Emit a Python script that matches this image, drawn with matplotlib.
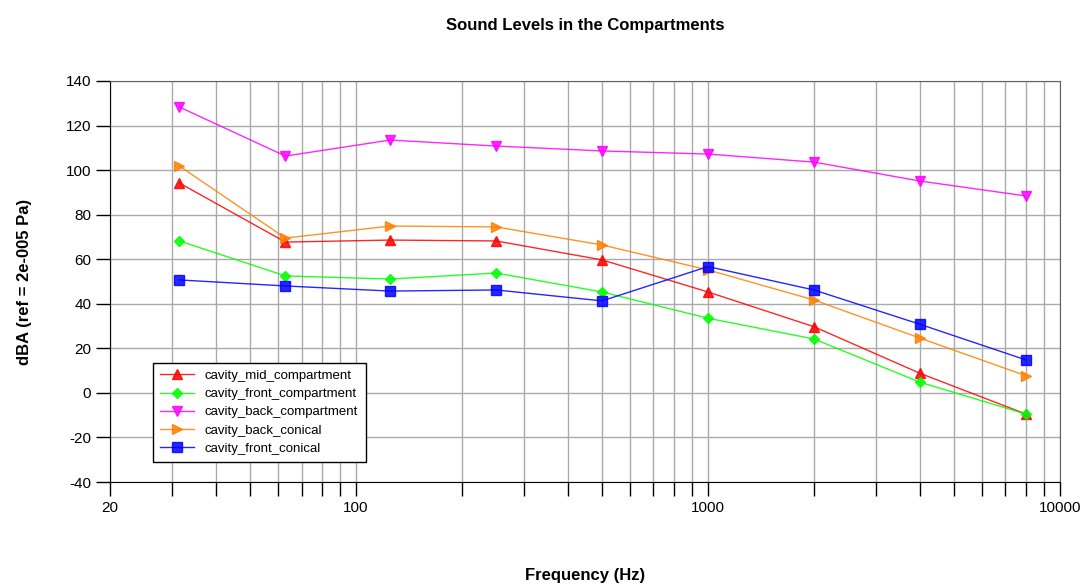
import numpy as np
import matplotlib.pyplot as plt
from matplotlib.ticker import FixedLocator, NullFormatter, FixedFormatter

plt.rcParams['font.family'] = ['Liberation Sans', 'DejaVu Sans']
plt.rcParams['axes.unicode_minus'] = False

# Octave band centre frequencies (Hz)
freq = [31.5, 63, 125, 250, 500, 1000, 2000, 4000, 8000]

# Sound levels per compartment (dBA)
mid_compartment = [94.2, 67.7, 68.6, 68.2, 59.7, 45.3, 29.7, 8.8, -9.5]
front_compartment = [68.2, 52.5, 51.1, 53.8, 45.3, 33.5, 24.2, 4.8, -9.5]
back_compartment = [128.3, 106.3, 113.5, 110.8, 108.6, 107.2, 103.6, 95.1, 88.4]
back_conical = [101.8, 69.5, 74.9, 74.5, 66.4, 55.2, 41.7, 24.6, 7.7]
front_conical = [50.7, 48.0, 45.7, 46.2, 41.3, 56.7, 46.2, 30.8, 14.8]

series = [
    ('cavity_mid_compartment', mid_compartment, '#ff0000', '^', 7),
    ('cavity_front_compartment', front_compartment, '#00ff00', 'D', 5),
    ('cavity_back_compartment', back_compartment, '#ff00ff', 'v', 7),
    ('cavity_back_conical', back_conical, '#ff8000', '>', 7),
    ('cavity_front_conical', front_conical, '#0000ff', 's', 7),
]

fig = plt.figure(figsize=(10.86, 5.85), dpi=100)
ax = fig.add_axes([110 / 1086, 1 - 482 / 585, 950 / 1086, 401 / 585])

for name, vals, col, mk, ms in series:
    ax.plot(freq, vals, color=col, marker=mk, markersize=ms, linewidth=1.0,
            label=name, alpha=0.85, markeredgecolor=col)

ax.set_xscale('log')
ax.set_xlim(20, 10000)
ax.set_ylim(-40, 140)
ax.set_yticks(np.arange(-40, 141, 20))

major = [20, 100, 1000, 10000]
ax.xaxis.set_major_locator(FixedLocator(major))
ax.xaxis.set_major_formatter(FixedFormatter([str(m) for m in major]))
minor = [m * d for d in (10, 100, 1000) for m in range(2, 10) if 20 < m * d < 10000]
ax.xaxis.set_minor_locator(FixedLocator(minor))
ax.xaxis.set_minor_formatter(NullFormatter())

ax.grid(True, which='both', axis='x', color='#aaaaaa', linewidth=1.0)
ax.grid(True, which='major', axis='y', color='#aaaaaa', linewidth=1.0)
ax.set_axisbelow(True)

ax.tick_params(axis='both', which='both', direction='out', length=10,
               width=1, labelsize=11, color='black')
ax.tick_params(axis='x', which='major', pad=4)
for side in ('left', 'bottom'):
    ax.spines[side].set_color('black')
for side in ('top', 'right'):
    ax.spines[side].set_color('#606060')

ax.set_title('Sound Levels in the Compartments', fontsize=12, fontweight='bold', pad=37)
ax.set_xlabel('Frequency (Hz)', fontsize=12, fontweight='bold', labelpad=38)
ax.set_ylabel('dBA (ref = 2e-005 Pa)', fontsize=12, fontweight='bold', labelpad=24)

leg = ax.legend(loc='lower left', bbox_to_anchor=(0.045, 0.05), borderaxespad=0,
                fontsize=9.5, fancybox=False, framealpha=1, edgecolor='black',
                borderpad=0.55, labelspacing=0.45, handlelength=2.6)
leg.get_frame().set_linewidth(1.0)

plt.savefig('out.png', dpi=100)
